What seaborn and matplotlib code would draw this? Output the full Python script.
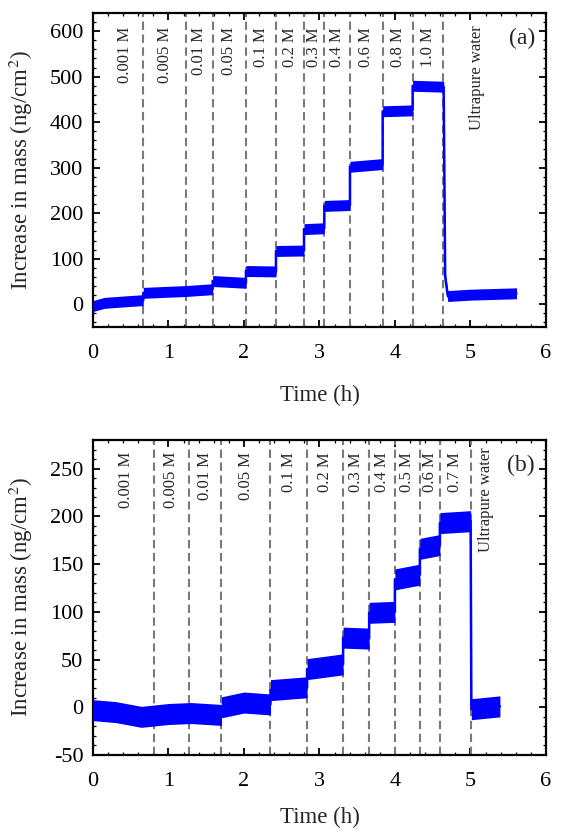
import numpy as np
import pandas as pd
import matplotlib
matplotlib.use("Agg")
import matplotlib.pyplot as plt
import matplotlib.transforms as mtransforms
from matplotlib.ticker import MultipleLocator
import seaborn as sns

# ---- panel (a): mean level of the QCM trace (h, ng/cm2)
a_time = [0.0, 0.15, 0.40, 0.666, 0.666, 1.23, 1.585, 1.585, 2.026, 2.026,
          2.424, 2.424, 2.795, 2.795, 3.064, 3.064, 3.404, 3.404, 3.837, 3.837,
          4.234, 4.234, 4.645, 4.665, 4.70, 5.0, 5.61]
a_mass = [-4, 3, 6, 9, 25, 29, 33, 51, 47, 73,
          72, 117, 118, 165, 167, 216, 218, 302, 308, 424,
          426, 480, 478, 60, 18, 21, 24]
a_lines = [0.666, 1.232, 1.585, 2.026, 2.424, 2.795, 3.064, 3.404, 3.837, 4.234, 4.640]
a_labels = ["0.001 M", "0.005 M", "0.01 M", "0.05 M", "0.1 M", "0.2 M", "0.3 M",
            "0.4 M", "0.6 M", "0.8 M", "1.0 M", "Ultrapure water"]

# ---- panel (b)
b_time = [0.0, 0.30, 0.64, 1.0, 1.30, 1.702, 1.702, 2.0, 2.351, 2.351,
          2.836, 2.836, 3.313, 3.313, 3.658, 3.658, 3.999, 3.999, 4.330, 4.330,
          4.595, 4.595, 5.002, 5.012, 5.39]
b_mass = [-3, -5, -10, -7, -6, -8, 0, 5, 3, 18,
          21, 40, 45, 73, 72, 99, 100, 134, 139, 166,
          170, 193, 195, -2, 1]
b_lines = [0.804, 1.272, 1.702, 2.351, 2.836, 3.313, 3.658, 3.999, 4.330, 4.595, 5.002]
b_labels = ["0.001 M", "0.005 M", "0.01 M", "0.05 M", "0.1 M", "0.2 M", "0.3 M",
            "0.4 M", "0.5 M", "0.6 M", "0.7 M", "Ultrapure water"]

sns.set_theme(style="ticks")
plt.rcParams["font.family"] = ["Liberation Serif", "DejaVu Serif"]
plt.rcParams["mathtext.fontset"] = "stix"
plt.rcParams["axes.unicode_minus"] = False

fig = plt.figure(figsize=(5.68, 8.32), dpi=100)
ax_a = fig.add_axes([0.1637, 0.607, 0.7975, 0.3774])
ax_b = fig.add_axes([0.1637, 0.0925, 0.7975, 0.3786])


def draw_panel(ax, t, m, lines, labels, band, ylim, ymaj, ymin, first_x, last_x,
               lab_y, last_y, tag, xlab_y):
    df = pd.DataFrame({"t": t, "m": m})
    mid = np.array(m, dtype=float)
    # noise band of the trace
    ax.fill_between(t, mid - band, mid + band, color="#0000ff", lw=0, zorder=3)
    sns.lineplot(data=df, x="t", y="m", ax=ax, color="#0000ff", lw=1.8,
                 estimator=None, sort=False, zorder=4)

    for x in lines:
        ax.axvline(x, color="#7a7a7a", lw=1.5, dashes=(4, 2.2), zorder=2)

    trans = mtransforms.blended_transform_factory(ax.transData, ax.transAxes)
    edges = [first_x] + list(lines)
    for i, lab in enumerate(labels):
        if i < len(labels) - 1:
            x = (edges[i] + edges[i + 1]) / 2
            y = lab_y
        else:
            x, y = last_x, last_y
        ax.text(x, y, lab, transform=trans, rotation=90, ha="center", va="top",
                fontsize=12, zorder=5)

    ax.text(0.976, 0.92, tag, transform=ax.transAxes, ha="right",
            va="center", fontsize=17)

    ax.set_xlim(0, 6)
    ax.set_ylim(*ylim)
    ax.xaxis.set_major_locator(MultipleLocator(1))
    ax.xaxis.set_minor_locator(MultipleLocator(0.2))
    ax.yaxis.set_major_locator(MultipleLocator(ymaj))
    ax.yaxis.set_minor_locator(MultipleLocator(ymin))
    ax.tick_params(which="both", direction="in", top=True, right=True,
                   colors="black", width=1.3)
    ax.tick_params(which="major", length=5)
    ax.tick_params(which="minor", length=2.5, width=0.9)
    ax.tick_params(axis="x", which="major", labelsize=16, pad=12)
    ax.tick_params(axis="y", which="major", labelsize=16, pad=7)
    for s in ax.spines.values():
        s.set_linewidth(1.6)
        s.set_color("black")
    ax.set_xlabel("Time (h)", fontsize=16.5)
    ax.set_ylabel("Increase in mass (ng/cm$^2$)", fontsize=16.5)
    ax.yaxis.set_label_coords(-0.128, 0.5)
    ax.xaxis.set_label_coords(0.5, xlab_y)


draw_panel(ax_a, a_time, a_mass, a_lines, a_labels, band=12, ylim=(-50, 640),
           ymaj=100, ymin=20, first_x=0.17, last_x=5.08, lab_y=0.955,
           last_y=0.962, tag="(a)", xlab_y=-0.185)
draw_panel(ax_b, b_time, b_mass, b_lines, b_labels, band=11, ylim=(-50, 280),
           ymaj=50, ymin=10, first_x=0.07, last_x=5.21, lab_y=0.962,
           last_y=0.978, tag="(b)", xlab_y=-0.165)

fig.savefig("out.png", dpi=100)
plt.close(fig)
